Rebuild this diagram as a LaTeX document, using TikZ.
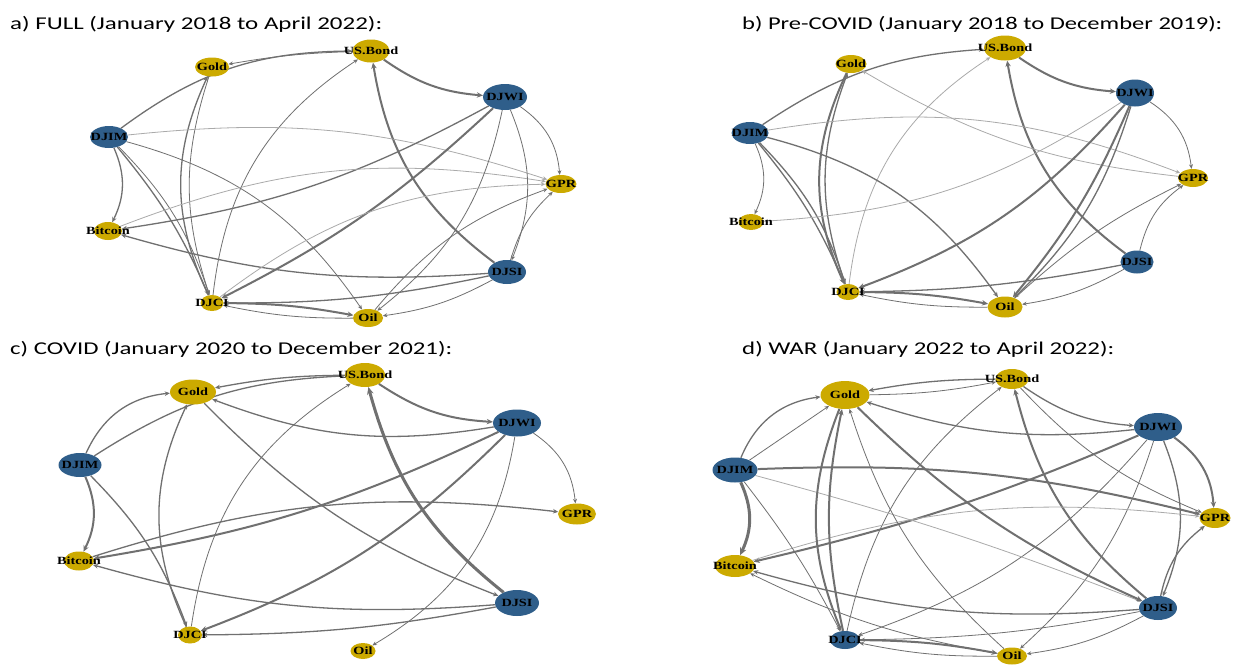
\documentclass[tikz,border=0pt]{standalone}
\usepackage{fontspec}
\usepackage{graphicx}
\setmainfont{Liberation Serif}
\newfontfamily\titlefont{Carlito}
\usetikzlibrary{shapes.geometric,arrows.meta}
\definecolor{ngold}{RGB}{204,170,0}
\definecolor{nblue}{RGB}{47,94,138}
\definecolor{edk}{RGB}{112,112,112}
\definecolor{elt}{RGB}{170,170,170}
\pgfdeclarelayer{bg}
\pgfsetlayers{bg,main}
\tikzset{
 gn/.style={ellipse, inner sep=0pt, draw=none},
 lbl/.style={font=\bfseries\fontsize{11}{11}\selectfont, inner sep=0pt},
 e/.style={draw=edk, line width=0.8pt, -{Stealth[length=3.5pt 1.3, width=3pt 1.2]}},
 el/.style={e, draw=elt},
 em/.style={e, line width=1.3pt},
 et/.style={e, line width=2pt},
 ev/.style={e, line width=3pt},
 ttl/.style={anchor=base west, inner sep=0pt, font=\titlefont\fontsize{18}{20}\selectfont},
}
\newcommand\gnode[7]{%
 \node[gn, fill=#6, minimum width=#4pt, minimum height=#5pt] (#1) at (#2,-#3) {};
 \node[lbl] at (#1) {\scalebox{1.3}[1]{#7}};
}
\begin{document}
\begin{tikzpicture}[x=1pt,y=1pt]
\useasboundingbox (0,0) rectangle (1244,-664);
% titles
\node[ttl] (ta) at (10,-29) {\resizebox{372pt}{\height}{a) FULL (January 2018 to April 2022):}};
\node[ttl] (tb) at (742,-29) {\resizebox{480pt}{\height}{b) Pre-COVID (January 2018 to December 2019):}};
\node[ttl] (tc) at (10,-354) {\resizebox{442pt}{\height}{c) COVID (January 2020 to December 2021):}};
\node[ttl] (td) at (742,-354) {\resizebox{372pt}{\height}{d) WAR (January 2022 to April 2022):}};
% panel a nodes
\gnode{aUB}{371}{51}{37}{23}{ngold}{US.Bond}
\gnode{aGd}{212}{67}{34}{19}{ngold}{Gold}
\gnode{aWI}{505}{97}{44}{26}{nblue}{DJWI}
\gnode{aIM}{109}{137}{38}{22}{nblue}{DJIM}
\gnode{aGPR}{561}{184}{31}{18}{ngold}{GPR}
\gnode{aBTC}{108}{231}{28}{18}{ngold}{Bitcoin}
\gnode{aSI}{507}{272}{38}{24}{nblue}{DJSI}
\gnode{aCI}{212}{303}{23}{16}{ngold}{DJCI}
\gnode{aOil}{368}{318}{30}{18}{ngold}{Oil}
% panel b nodes
\gnode{bUB}{1005}{48}{42}{25}{ngold}{US.Bond}
\gnode{bGd}{851}{64}{31}{18}{ngold}{Gold}
\gnode{bWI}{1135}{93}{38}{27}{nblue}{DJWI}
\gnode{bIM}{750}{133}{37}{22}{nblue}{DJIM}
\gnode{bGPR}{1193}{178}{30}{18}{ngold}{GPR}
\gnode{bBTC}{751}{222}{25}{16}{ngold}{Bitcoin}
\gnode{bSI}{1137}{262}{33}{23}{nblue}{DJSI}
\gnode{bCI}{848}{292}{23}{16}{ngold}{DJCI}
\gnode{bOil}{1005}{307}{35}{21}{ngold}{Oil}
% panel c nodes
\gnode{cUB}{365}{375}{40}{24}{ngold}{US.Bond}
\gnode{cGd}{193}{392}{46}{25}{ngold}{Gold}
\gnode{cWI}{517}{423}{48}{27}{nblue}{DJWI}
\gnode{cIM}{80}{465}{43}{24}{nblue}{DJIM}
\gnode{cGPR}{577}{514}{38}{21}{ngold}{GPR}
\gnode{cBTC}{79}{561}{30}{19}{ngold}{Bitcoin}
\gnode{cSI}{517}{603}{44}{26}{nblue}{DJSI}
\gnode{cCI}{190}{635}{24}{17}{ngold}{DJCI}
\gnode{cOil}{363}{651}{25}{16}{ngold}{Oil}
% panel d nodes
\gnode{dUB}{1012}{379}{33}{20}{ngold}{US.Bond}
\gnode{dGd}{845}{395}{49}{28}{ngold}{Gold}
\gnode{dWI}{1158}{427}{48}{28}{nblue}{DJWI}
\gnode{dIM}{735}{470}{45}{25}{nblue}{DJIM}
\gnode{dGPR}{1215}{518}{31}{20}{ngold}{GPR}
\gnode{dBTC}{735}{566}{40}{22}{ngold}{Bitcoin}
\gnode{dSI}{1158}{608}{38}{24}{nblue}{DJSI}
\gnode{dCI}{845}{640}{30}{18}{nblue}{DJCI}
\gnode{dOil}{1012}{656}{30}{17}{ngold}{Oil}
\begin{pgfonlayer}{bg}
\fill[white] (0,0) rectangle (1244,-664);
% panel a edges
\draw[e] (aUB) to[bend right=4] (aGd);
\draw[em] (aIM) to[bend left=18] (aUB);
\draw[et] (aUB) to[bend right=15] (aWI);
\draw[et] (aSI) to[bend left=22] (aUB);
\draw[e] (aCI) to[bend left=25] (aUB);
\draw[em] (aCI) to[bend left=25] (aGd);
\draw[e] (aGd) to[bend right=18] (aCI);
\draw[em] (aIM) to[bend left=25] (aBTC);
\draw[em] (aIM) to[bend left=8] (aCI);
\draw[e] (aIM) to[bend left=13] (aCI);
\draw[e] (aIM) to[bend left=20] (aOil);
\draw[el] (aIM) to[bend left=12] (aGPR);
\draw[em] (aWI) to[bend left=10] (aBTC);
\draw[el] (aBTC) to[bend left=15] (aGPR);
\draw[et] (aWI) to[bend left=8] (aCI);
\draw[e] (aWI) to[bend left=25] (aGPR);
\draw[e] (aWI) to[bend left=22] (aSI);
\draw[e] (aWI) to[bend left=20] (aOil);
\draw[em] (aSI) to[bend left=10] (aBTC);
\draw[em] (aSI) to[bend left=6] (aCI);
\draw[e] (aSI) to[bend left=10] (aOil);
\draw[e] (aSI) to[bend left=15] (aGPR);
\draw[el] (aCI) to[bend left=18] (aGPR);
\draw[e] (aOil) to[bend left=15] (aGPR);
\draw[et] (aCI) to[bend left=5] (aOil);
\draw[e] (aOil) to[bend left=6] (aCI);
% panel b edges
\draw[em] (bIM) to[bend left=15] (bUB);
\draw[et] (bUB) to[bend right=15] (bWI);
\draw[et] (bSI) to[bend left=22] (bUB);
\draw[et] (bGd) to[bend right=25] (bCI);
\draw[em] (bCI) to[bend left=20] (bGd);
\draw[el] (bCI) to[bend left=25] (bUB);
\draw[e] (bIM) to[bend left=25] (bBTC);
\draw[em] (bIM) to[bend left=8] (bCI);
\draw[em] (bIM) to[bend left=13] (bCI);
\draw[em] (bIM) to[bend left=20] (bOil);
\draw[el] (bIM) to[bend left=15] (bGPR);
\draw[el] (bGPR) to[bend left=12] (bGd);
\draw[el] (bWI) to[bend left=15] (bBTC);
\draw[et] (bWI) to[bend left=14] (bCI);
\draw[e] (bWI) to[bend left=25] (bGPR);
\draw[et] (bWI) to[bend left=8] (bOil);
\draw[em] (bWI) to[bend left=14] (bOil);
\draw[e] (bSI) to[bend left=20] (bGPR);
\draw[e] (bOil) to[bend left=8] (bGPR);
\draw[em] (bSI) to[bend left=5] (bCI);
\draw[e] (bSI) to[bend left=10] (bOil);
\draw[et] (bCI) to[bend left=5] (bOil);
\draw[e] (bOil) to[bend left=6] (bCI);
% panel c edges
\draw[em] (cUB) to[bend right=5] (cGd);
\draw[em] (cIM) to[bend left=15] (cUB);
\draw[em] (cIM) to[bend left=30] (cGd);
\draw[et] (cUB) to[bend right=15] (cWI);
\draw[em] (cWI) to[bend left=15] (cGd);
\draw[ev] (cSI) to[bend left=18] (cUB);
\draw[em] (cGd) to[bend right=12] (cSI);
\draw[e] (cCI) to[bend left=25] (cUB);
\draw[em] (cCI) to[bend left=25] (cGd);
\draw[et] (cIM) to[bend left=25] (cBTC);
\draw[em] (cIM) to[bend left=12] (cCI);
\draw[et] (cWI) to[bend left=8] (cBTC);
\draw[em] (cBTC) to[bend left=12] (cGPR);
\draw[e] (cWI) to[bend left=25] (cGPR);
\draw[et] (cWI) to[bend left=12] (cCI);
\draw[e] (cWI) to[bend left=25] (cOil);
\draw[em] (cSI) to[bend left=10] (cBTC);
\draw[em] (cSI) to[bend left=5] (cCI);
% panel d edges
\draw[em] (dUB) to[bend right=5] (dGd);
\draw[e] (dGd) to[bend right=5] (dUB);
\draw[em] (dIM) to[bend left=30] (dGd);
\draw[e] (dIM) to (dGd);
\draw[em] (dWI) to[bend left=12] (dGd);
\draw[em] (dUB) to[bend right=15] (dWI);
\draw[e] (dUB) to[bend right=12] (dGPR);
\draw[et] (dSI) to[bend left=18] (dUB);
\draw[e] (dCI) to[bend left=20] (dUB);
\draw[et] (dWI) to[bend left=25] (dGPR);
\draw[em] (dWI) to[bend left=22] (dSI);
\draw[em] (dSI) to[bend left=20] (dGPR);
\draw[et] (dWI) to[bend left=5] (dBTC);
\draw[e] (dWI) to[bend left=15] (dCI);
\draw[e] (dWI) to[bend left=15] (dOil);
\draw[et] (dIM) to[bend left=8] (dGPR);
\draw[el] (dIM) to[bend left=3] (dSI);
\draw[el] (dBTC) to[bend left=12] (dGPR);
\draw[ev] (dIM) to[bend left=25] (dBTC);
\draw[e] (dIM) to[bend left=5] (dCI);
\draw[et] (dGd) to[bend right=22] (dCI);
\draw[et] (dCI) to[bend left=12] (dGd);
\draw[et] (dGd) to[bend right=10] (dSI);
\draw[e] (dOil) to[bend left=15] (dGd);
\draw[em] (dSI) to[bend left=10] (dBTC);
\draw[e] (dOil) to[bend left=8] (dBTC);
\draw[e] (dSI) to[bend left=5] (dCI);
\draw[e] (dSI) to[bend left=10] (dOil);
\draw[et] (dCI) to[bend left=5] (dOil);
\draw[e] (dOil) to[bend left=6] (dCI);
\end{pgfonlayer}
\end{tikzpicture}
\end{document}
